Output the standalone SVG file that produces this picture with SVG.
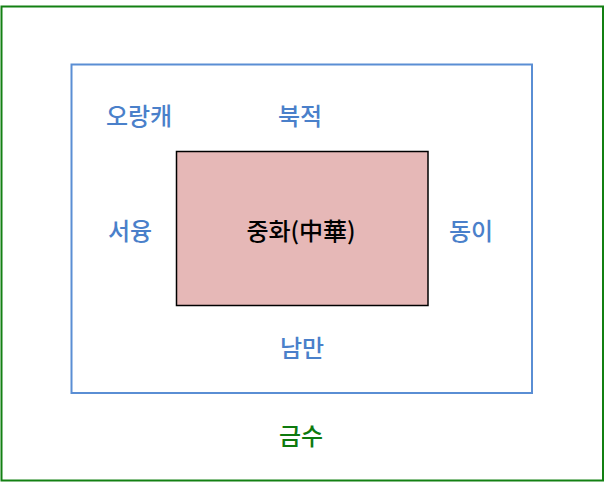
<svg xmlns="http://www.w3.org/2000/svg" width="611" height="487" viewBox="0 0 611 487">
<style>
.lbl{font-family:"Noto Sans CJK KR","Noto Sans",sans-serif;font-size:24px;font-weight:500;text-anchor:middle}
.blue{fill:#4A80CA}
</style>
<rect width="611" height="487" fill="#ffffff"/>
<g id="outer">
<rect x="1.5" y="6.5" width="601.5" height="474" fill="none" stroke="#138013" stroke-width="2"/>
<text class="lbl" x="301" y="445" fill="#0E7A0E">금수</text>
</g>
<g id="middle">
<rect x="71.5" y="64.5" width="460.5" height="328.5" fill="none" stroke="#5A8ED4" stroke-width="2"/>
<text class="lbl blue" x="139" y="125">오랑캐</text>
<text class="lbl blue" x="300" y="125">북적</text>
<text class="lbl blue" x="130" y="240">서융</text>
<text class="lbl blue" x="471" y="240">동이</text>
<text class="lbl blue" x="302" y="356.5">남만</text>
</g>
<g id="center">
<rect x="176.5" y="151.5" width="251.5" height="154" fill="#E6B8B7" stroke="#000000" stroke-width="1.5"/>
<text class="lbl" x="301" y="240" fill="#000000">중화(中華)</text>
</g>
<g id="connectors"></g>
</svg>
